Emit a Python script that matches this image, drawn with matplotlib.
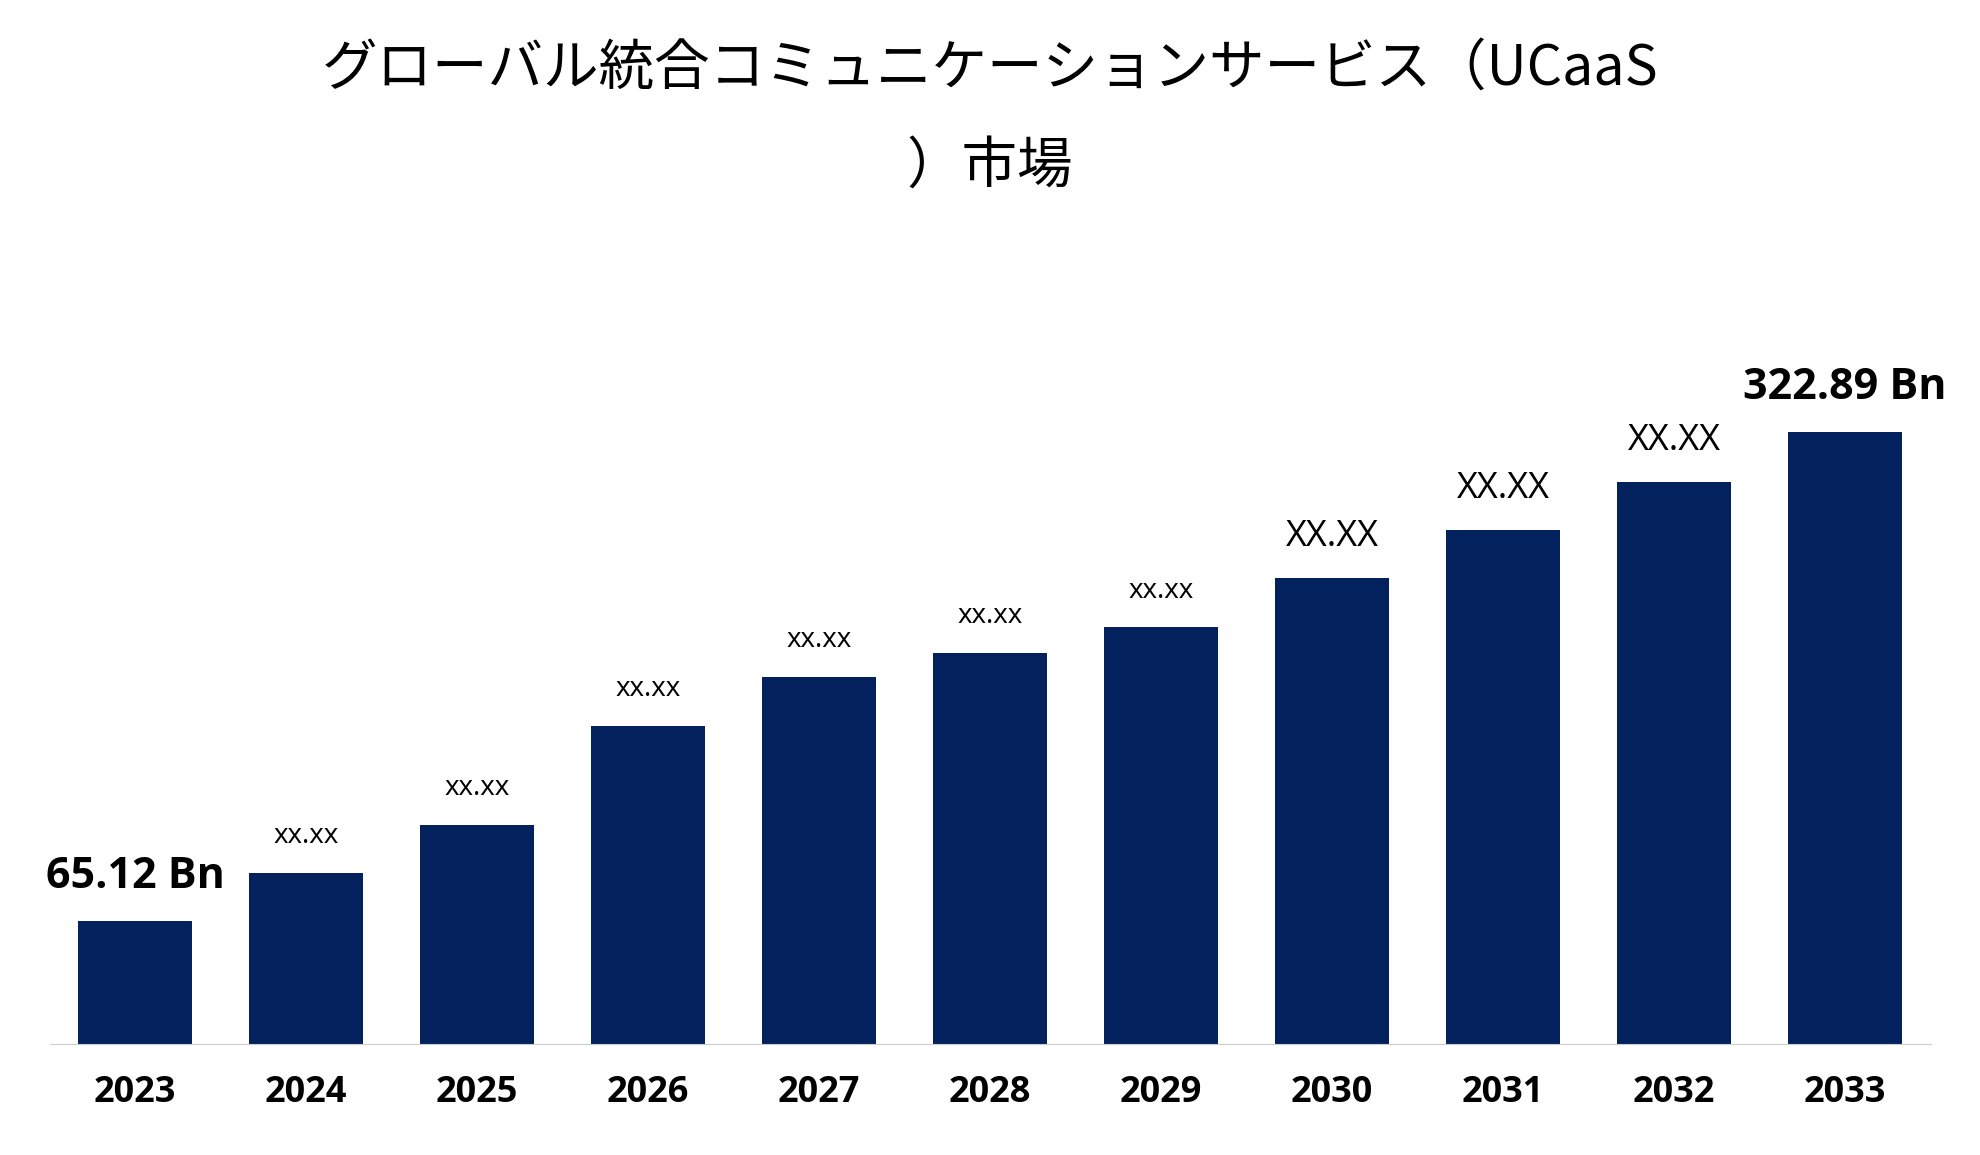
import matplotlib
matplotlib.use("Agg")
import matplotlib.pyplot as plt

years = ["2023","2024","2025","2026","2027","2028","2029","2030","2031","2032","2033"]
values = [65.12, 90.3, 115.7, 167.8, 193.9, 206.6, 219.9, 246.0, 271.4, 296.8, 322.89]
labels = ["65.12 Bn","xx.xx","xx.xx","xx.xx","xx.xx","xx.xx","xx.xx","XX.XX","XX.XX","XX.XX","322.89 Bn"]

fig = plt.figure(figsize=(19.8, 11.55), dpi=100)
ax = fig.add_axes([0.025, 0.096, 0.95, 0.75])
x = range(len(years))
ax.bar(x, values, width=0.67, color="#03215C")
ax.set_xlim(-0.5, len(years)-0.5)
ax.set_ylim(0, 457)
for i, (v, l) in enumerate(zip(values, labels)):
    if i in (0, len(years)-1):
        fs, fw = 31, "bold"
    elif l.startswith("XX"):
        fs, fw = 26, "normal"
    else:
        fs, fw = 20, "normal"
    ax.text(i, v + 12, l, ha="center", va="bottom", fontsize=fs, fontweight=fw,
            fontfamily="Open Sans", clip_on=False)
ax.set_xticks(list(x))
ax.set_xticklabels(years, fontsize=26, fontweight="bold", fontfamily="Open Sans")
ax.tick_params(axis="x", length=0, pad=22)
ax.set_yticks([])
for s in ["top", "right", "left"]:
    ax.spines[s].set_visible(False)
ax.spines["bottom"].set_color("#cccccc")
fig.text(0.5, 0.965, "グローバル統合コミュニケーションサービス（UCaaS\n）市場", ha="center", va="top",
         fontsize=40, fontfamily="Noto Sans CJK JP", linespacing=1.9)
fig.savefig("out.png", dpi=100)
